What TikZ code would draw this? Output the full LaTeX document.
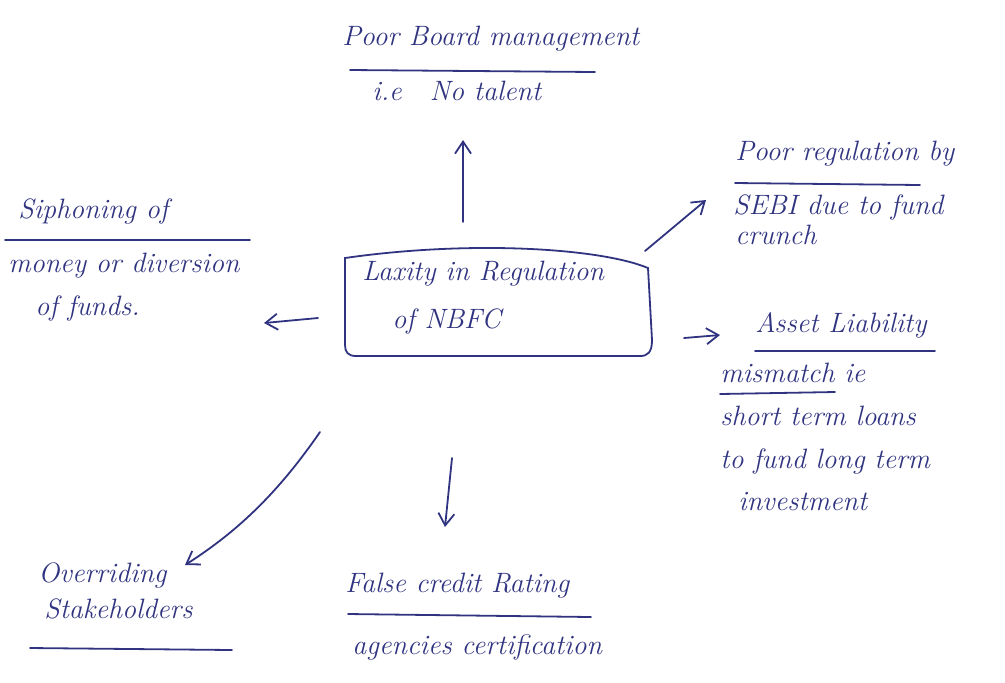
\documentclass[tikz,border=0pt]{standalone}
\usetikzlibrary{arrows.meta}
\definecolor{ink}{RGB}{48,52,128}
\begin{document}
\begin{tikzpicture}[x=0.5pt,y=-0.5pt,
  every node/.style={text=ink},
  hand/.style={font=\fontsize{14}{20}\selectfont\itshape, inner sep=0pt, anchor=base west},
  ink line/.style={draw=ink, line width=0.9pt, line cap=round},
  ink arrow/.style={ink line, -{Straight Barb[length=6pt,width=8pt]}}]
\useasboundingbox (0,0) rectangle (1005,682);

% centre box
\path[ink line] (345,258) .. controls (470,240) and (600,248) .. (648,268)
  -- (652,340) .. controls (652,352) and (648,356) .. (640,356)
  -- (356,356) .. controls (348,356) and (345,352) .. (345,345) -- cycle;
\node[hand] (center) at (362,280) {Laxity in Regulation};
\node[hand] (center2) at (392,328) {of NBFC};

% top
\node[hand] (top1) at (342,45) {Poor Board management};
\node[hand] (top2) at (372,100) {i.e\quad No talent};
\draw[ink line] (top1.base west) ++(8,25) -- ++(245,2);

% top right
\node[hand] (tr1) at (735,160) {Poor regulation by};
\node[hand] (tr2) at (733,214) {SEBI due to fund};
\node[hand] (tr3) at (735,244) {crunch};
\draw[ink line] (tr1.base west) ++(0,23) -- ++(185,2);

% left
\node[hand] (l1) at (18,218) {Siphoning of};
\node[hand] (l2) at (8,272) {money or diversion};
\node[hand] (l3) at (35,315) {of funds.};
\draw[ink line] (l1.base west) ++(-13,22) -- ++(245,0);

% right
\node[hand] (r1) at (755,332) {Asset Liability};
\node[hand] (r2) at (720,382) {mismatch ie};
\node[hand] (r3) at (720,425) {short term loans};
\node[hand] (r4) at (720,468) {to fund long term};
\node[hand] (r5) at (738,510) {investment};
\draw[ink line] (r1.base west) ++(0,19) -- ++(180,0);
\draw[ink line] (r2.base west) ++(0,12) -- ++(115,-2);

% bottom left
\node[hand] (bl1) at (38,582) {Overriding};
\node[hand] (bl2) at (44,618) {Stakeholders};
\draw[ink line] (bl2.base west) ++(-14,30) -- ++(202,2);

% bottom
\node[hand] (b1) at (345,592) {False credit Rating};
\node[hand] (b2) at (352,654) {agencies certification};
\draw[ink line] (b1.base west) ++(3,22) -- ++(243,3);

% connectors
\coordinate (cN) at (463,222);   \coordinate (tN) at (463,140);
\coordinate (cNE) at (645,251);  \coordinate (tNE) at (706,200);
\coordinate (cW) at (318,318);   \coordinate (tW) at (264,323);
\coordinate (cE) at (684,338);   \coordinate (tE) at (720,335);
\coordinate (cS) at (452,458);   \coordinate (tS) at (445,527);
\coordinate (cSW) at (320,432);  \coordinate (tSW) at (185,565);
\draw[ink arrow] (cN) -- (tN);
\draw[ink arrow] (cNE) -- (tNE);
\draw[ink arrow] (cW) -- (tW);
\draw[ink arrow] (cE) -- (tE);
\draw[ink arrow] (cS) -- (tS);
\draw[ink arrow] (cSW) .. controls (280,490) and (240,530) .. (tSW);
\end{tikzpicture}
\end{document}
